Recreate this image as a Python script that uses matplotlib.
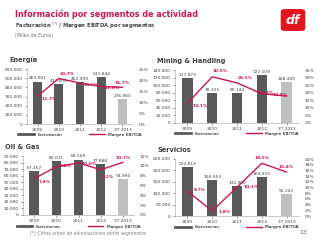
import matplotlib
matplotlib.use("Agg")
import matplotlib.pyplot as plt
from matplotlib.patches import FancyBboxPatch
from matplotlib.ticker import FuncFormatter

years = ["2009", "2010", "2011", "2012", "3T 2013"]

energia_fact = [463061, 437000, 452909, 511844, 276960]
energia_marg = [12.7, 20.7, 18.6, 17.0, 16.7]

mining_fact = [117873, 78325, 80144, 127109, 108449]
mining_marg = [13.1, 30.5, 26.5, 19.3, 17.8]

oil_fact = [67257, 82031, 84509, 77888, 54990]
oil_marg = [7.4, 9.8, 10.6, 9.2, 10.7]

serv_fact = [212813, 156953, 132900, 169333, 95242]
serv_marg = [8.7, 1.8, 10.1, 18.5, 15.4]

RED = "#c8174f"
DARK = "#595959"
LIGHT = "#bfbfbf"
W, H = 320, 240


def thousands(v, _=None):
    return f"{int(v):,}".replace(",", ".")


def pct(v, _=None):
    return f"{v:.0f}%"


def panel(rect, title, fact, marg, ymax, ystep, pmax, pstep, offs):
    x0, y0, x1, y1 = rect
    ax = fig.add_axes([x0 / W, 1 - y1 / H, (x1 - x0) / W, (y1 - y0) / H])
    xs = range(len(years))
    colors = [DARK] * (len(years) - 1) + [LIGHT]
    ax.bar(xs, fact, width=0.42, color=colors, zorder=2)
    ax.set_ylim(0, ymax)
    ax.set_yticks(range(0, ymax + 1, ystep))
    ax.yaxis.set_major_formatter(FuncFormatter(thousands))
    ax.set_xlim(-0.5, len(years) - 0.5)
    ax.set_xticks(list(xs))
    ax.set_xticklabels(years)
    ax.tick_params(labelsize=3.2, length=1.5, width=0.4, pad=1.5, colors="#404040")
    for s in ["top", "right"]:
        ax.spines[s].set_visible(False)
    for s in ["left", "bottom"]:
        ax.spines[s].set_linewidth(0.4)
        ax.spines[s].set_color("#a0a0a0")
    for i, v in enumerate(fact):
        ax.text(i, v + ymax * 0.02, thousands(v), ha="center", va="bottom",
                fontsize=3.2, color="#404040")

    ax2 = ax.twinx()
    ax2.plot(list(xs), marg, color=RED, lw=1.0, zorder=3)
    ax2.set_ylim(0, pmax)
    ax2.set_yticks(range(0, pmax + 1, pstep))
    ax2.yaxis.set_major_formatter(FuncFormatter(pct))
    ax2.tick_params(labelsize=3.2, length=0, pad=4, colors="#404040")
    for s in ax2.spines.values():
        s.set_visible(False)
    for i, v in enumerate(marg):
        dx, dy = offs[i]
        ax2.annotate(f"{v:.1f}%".replace(".", ","), (i, v), xytext=(dx, dy),
                     textcoords="offset points", fontsize=3.2, color=RED,
                     fontweight="bold", ha="center", va="center", zorder=4)

    fig.text((x0 - 18) / W, 1 - (y0 - 9) / H, title, fontsize=4.8,
             fontweight="bold", color="#404040", va="center")
    ax.legend([plt.Line2D([], [], color=DARK, lw=2),
               plt.Line2D([], [], color=RED, lw=1)],
              ["Facturación", "Margen EBITDA"], ncol=2, fontsize=3.2,
              frameon=False, loc="upper center", bbox_to_anchor=(0.5, -0.13),
              handlelength=3.5, columnspacing=6, borderaxespad=0)
    return ax


fig = plt.figure(figsize=(3.2, 2.4), dpi=100)
fig.patch.set_facecolor("white")

fig.text(15 / W, 1 - 14 / H, "Información por segmentos de actividad",
         fontsize=5.8, fontweight="bold", color=RED, va="center")
fig.text(15 / W, 1 - 26 / H, "Facturación $^{(*)}$ / Margen EBITDA por segmentos",
         fontsize=3.8, fontweight="bold", color="#404040", va="center")
fig.text(15 / W, 1 - 35 / H, "(Miles de Euros)", fontsize=3.4,
         color="#707070", va="center")

logo = FancyBboxPatch((282 / W, 1 - 30 / H), 22 / W, 20 / H,
                      boxstyle="round,pad=0.004,rounding_size=0.012",
                      transform=fig.transFigure, facecolor="#e2141c",
                      edgecolor="none", mutation_aspect=1)
fig.patches.append(logo)
fig.text(293 / W, 1 - 20 / H, "df", fontsize=9, fontweight="bold",
         style="italic", color="white", ha="center", va="center")

panel((27, 69, 133, 124), "Energía", energia_fact, energia_marg,
      600000, 100000, 25, 5,
      [(8, -2), (6, 3), (8, -1), (8, -1), (0, 3)])
panel((175, 70, 299, 123), "Mining & Handling", mining_fact, mining_marg,
      140000, 20000, 35, 5,
      [(9, -2), (6, 4), (6, 4), (3, 1), (-5, 1)])
panel((23, 156, 134, 215), "Oil & Gas", oil_fact, oil_marg,
      90000, 10000, 12, 2,
      [(8, -2), (7, 1), (8, -1), (5, -5), (0, 3)])
panel((175, 159, 299, 216), "Servicios", serv_fact, serv_marg,
      250000, 50000, 20, 2,
      [(9, 1), (9, -1), (10, 0), (0, 4), (0, 4)])

fig.text(30 / W, 1 - 234 / H, "(*) Cifras antes de eliminaciones entre segmentos",
         fontsize=3.3, color="#808080", style="italic", va="center")
fig.text(303 / W, 1 - 233 / H, "13", fontsize=4.5, color="#606060",
         ha="center", va="center")

fig.savefig("out.png", dpi=100)
